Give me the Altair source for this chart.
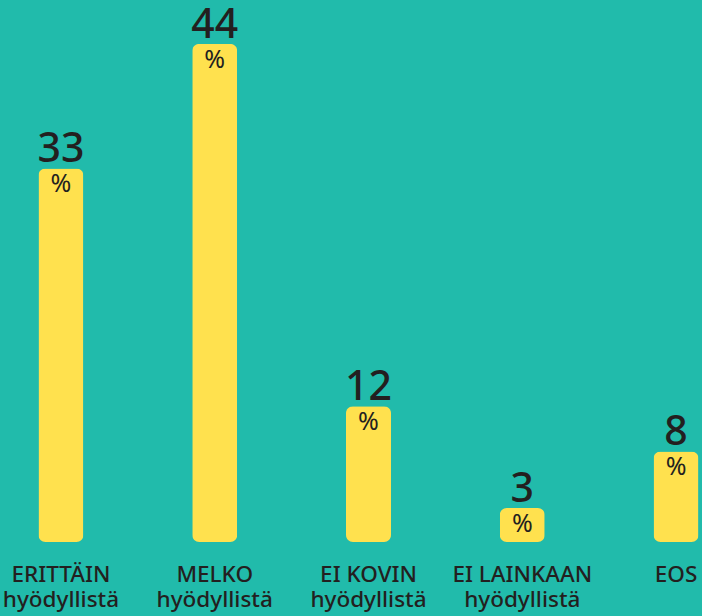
import altair as alt
import pandas as pd

categories = ["ERITTÄIN|hyödyllistä", "MELKO|hyödyllistä", "EI KOVIN|hyödyllistä", "EI LAINKAAN|hyödyllistä", "EOS"]
values = [33, 44, 12, 3, 8]

df = pd.DataFrame({"cat": categories, "val": values, "pct": ["%"] * len(values)})

BG = "#21BBAB"
YELLOW = "#FFE14E"
DARK = "#231F20"
FONT = "Noto Sans"

x = alt.X(
    "cat:N",
    sort=categories,
    scale=alt.Scale(range=[0, 737], paddingInner=0.7073, paddingOuter=0.25),
    axis=alt.Axis(
        title=None, domain=False, ticks=False, labelAngle=0,
        labelExpr="split(datum.label, '|')",
        labelFont=FONT, labelFontSize=22.5, labelColor=DARK, labelFontWeight=500,
        labelLineHeight=25, labelPadding=21, labelBaseline="top",
    ),
)
y = alt.Y("val:Q", scale=alt.Scale(domain=[0, 47.88]), axis=None)

base = alt.Chart(df).encode(x=x, y=y)

bars = base.mark_bar(color=YELLOW, size=45, cornerRadius=7)
nums = base.mark_text(font=FONT, fontSize=41, color=DARK, baseline="alphabetic", dy=-6, fontWeight=500).encode(text="val:Q")
pct = base.mark_text(font=FONT, fontSize=25, color=DARK, baseline="alphabetic", dy=24).encode(text="pct:N")

chart = (
    alt.layer(bars, nums, pct)
    .properties(
        width=702, height=542, background=BG,
        autosize=alt.AutoSizeParams(type="none"),
        padding={"left": 0, "top": 0, "right": 0, "bottom": 74},
    )
    .configure_view(stroke=None)
)

chart.save("out.html", embed_options={"renderer": "svg", "actions": False})
